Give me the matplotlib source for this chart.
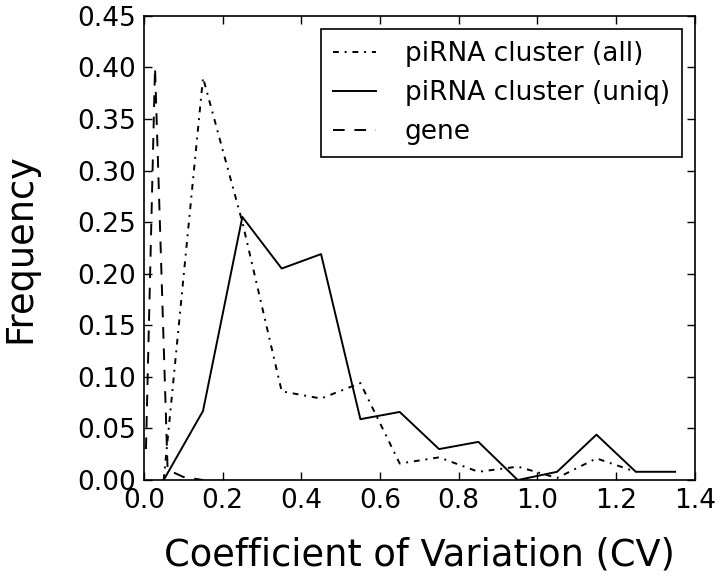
import numpy as np
import matplotlib
matplotlib.use('Agg')
import matplotlib.pyplot as plt

# CV bin centres and frequencies
cv_all = [0.05, 0.15, 0.25, 0.35, 0.45, 0.55, 0.65, 0.75, 0.85, 0.95, 1.05, 1.15, 1.25]
freq_all = [0.0, 0.39, 0.25, 0.086, 0.079, 0.094, 0.016, 0.022, 0.008, 0.013, 0.002, 0.021, 0.008]

cv_uniq = [0.05, 0.15, 0.25, 0.35, 0.45, 0.55, 0.65, 0.75, 0.85, 0.95, 1.05, 1.15, 1.25, 1.35]
freq_uniq = [0.0, 0.067, 0.255, 0.205, 0.219, 0.059, 0.066, 0.030, 0.037, 0.0, 0.008, 0.044, 0.008, 0.008]

cv_gene = [0.005, 0.028, 0.06, 0.1, 0.15]
freq_gene = [0.03, 0.40, 0.01, 0.003, 0.0]

plt.rcParams['font.family'] = 'DejaVu Sans'
plt.rcParams['xtick.direction'] = 'in'
plt.rcParams['ytick.direction'] = 'in'

fig = plt.figure(figsize=(7.2, 5.84), dpi=100)
ax = fig.add_axes([0.2, 0.178, 0.765, 0.795])

ax.plot(cv_all, freq_all, color='black', lw=1.4, dashes=(3, 3, 1, 3), label='piRNA cluster (all)')
ax.plot(cv_uniq, freq_uniq, color='black', lw=1.4, label='piRNA cluster (uniq)')
ax.plot(cv_gene, freq_gene, color='black', lw=1.4, dashes=(6, 5), label='gene')

ax.set_xlim(0, 1.4)
ax.set_ylim(0, 0.45)
ax.set_xticks(np.arange(0, 1.41, 0.2))
ax.set_yticks(np.arange(0, 0.451, 0.05))
ax.set_xticklabels(['%.1f' % v for v in np.arange(0, 1.41, 0.2)])
ax.set_yticklabels(['%.2f' % v for v in np.arange(0, 0.451, 0.05)])
ax.tick_params(labelsize=19, length=6, width=1, top=True, right=True, pad=6)
for s in ax.spines.values():
    s.set_linewidth(1.2)

ax.set_xlabel('Coefficient of Variation (CV)', fontsize=26.5, labelpad=16)
ax.set_ylabel('Frequency', fontsize=26.5, labelpad=28)

leg = ax.legend(loc='upper right', fontsize=19, handlelength=1.6, handletextpad=1.1,
                borderpad=0.45, labelspacing=0.5, fancybox=False, framealpha=1,
                borderaxespad=0.5)
leg.get_frame().set_edgecolor('black')
leg.get_frame().set_linewidth(1.2)

plt.savefig('out.png', dpi=100)
